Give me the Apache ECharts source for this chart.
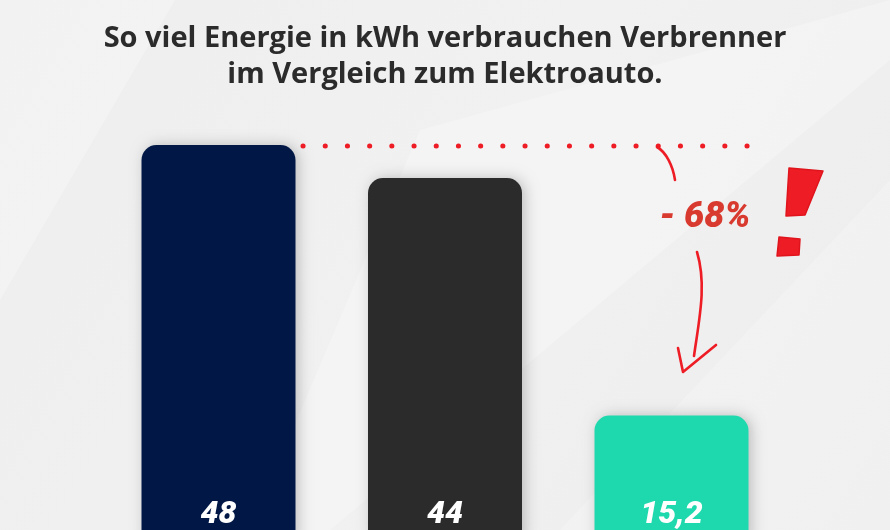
<!DOCTYPE html>
<html>
<head>
<meta charset="utf-8">
<script src="https://cdn.jsdelivr.net/npm/echarts@6/dist/echarts.min.js"></script>
<style>html,body{margin:0;padding:0;}#c{width:890px;height:530px;}</style>
</head>
<body>
<div id="c"></div>
<script>
const titleLines = ["So viel Energie in kWh verbrauchen Verbrenner", "im Vergleich zum Elektroauto."];
const categories = ["Benziner", "Diesel", "Elektroauto"];
const values = [48, 44, 15.2];
const barColors = ["#011846", "#2b2b2b", "#1fd9ae"];
const changeLabel = "- 68%";

const chart = echarts.init(document.getElementById('c'), null, {renderer: 'canvas'});

const bgGraphics = [
  {type: 'rect', z: -10, silent: true, shape: {x: 0, y: 0, width: 890, height: 530},
   style: {fill: new echarts.graphic.LinearGradient(0, 0, 1, 1, [
     {offset: 0, color: '#eeeeee'}, {offset: 0.5, color: '#f1f1f1'}, {offset: 1, color: '#ededed'}])}},
  {type: 'polygon', z: -9, silent: true, shape: {points: [[0, 0], [175, 0], [0, 300]]},
   style: {fill: 'rgba(255,255,255,0.25)'}},
  {type: 'polygon', z: -9, silent: true, shape: {points: [[420, 130], [890, 0], [890, 60], [330, 530], [250, 530]]},
   style: {fill: 'rgba(255,255,255,0.25)'}},
  {type: 'polygon', z: -9, silent: true, shape: {points: [[890, 180], [890, 530], [560, 530]]},
   style: {fill: 'rgba(255,255,255,0.2)'}}
];

const option = {
  animation: false,
  backgroundColor: '#efefef',
  title: {
    text: titleLines.join('\n'),
    left: 'center',
    top: 16,
    textStyle: {fontFamily: 'Open Sans', fontWeight: 'bold', fontSize: 29, lineHeight: 36, color: '#2b2b2b'}
  },
  grid: {left: 105.25, right: 105.25, top: 145, height: 396, containLabel: false, outerBoundsMode: 'none'},
  xAxis: {type: 'category', data: categories, show: false},
  yAxis: {type: 'value', min: 0, max: 48, show: false, splitLine: {show: false}},
  series: [{
    type: 'bar',
    barWidth: 154,
    clip: false,
    data: values.map((v, i) => ({value: v, itemStyle: {color: barColors[i]}})),
    itemStyle: {borderRadius: [15, 15, 0, 0], shadowBlur: 14, shadowOffsetX: 3, shadowOffsetY: 0, shadowColor: 'rgba(0,0,0,0.22)'},
    label: {
      show: true, position: 'insideBottom', distance: 10,
      formatter: p => String(p.value).replace('.', ','),
      fontFamily: 'Roboto', fontWeight: 900, fontStyle: 'italic', fontSize: 32, color: '#ffffff'
    }
  }],
  graphic: bgGraphics
};
chart.setOption(option);

const topY = chart.convertToPixel({gridIndex: 0}, [0, values[0]])[1] + 1;
const red = '#ee1c24';
chart.setOption({graphic: bgGraphics.concat([
  {type: 'line', silent: true, z: 10, shape: {x1: 303, y1: topY, x2: 750, y2: topY},
   style: {stroke: red, lineWidth: 5, lineCap: 'round', lineDash: [0.1, 22.1]}},
  {type: 'bezierCurve', silent: true, z: 10, shape: {x1: 657, y1: topY + 1, cpx1: 666, cpy1: topY + 6, cpx2: 673, cpy2: topY + 20, x2: 675, y2: topY + 34},
   style: {stroke: red, lineWidth: 2.6, lineCap: 'round', fill: null}},
  {type: 'text', silent: true, z: 10, x: 705, y: 218,
   style: {text: changeLabel, fontFamily: 'Roboto', fontWeight: 900, fontStyle: 'italic', fontSize: 36, fill: '#d93a2f', align: 'center', verticalAlign: 'middle'}},
  {type: 'bezierCurve', silent: true, z: 10, shape: {x1: 697, y1: 252, cpx1: 707, cpy1: 285, cpx2: 699, cpy2: 320, x2: 694, y2: 356},
   style: {stroke: red, lineWidth: 2.6, lineCap: 'round', fill: null}},
  {type: 'polyline', silent: true, z: 10, shape: {points: [[678, 348], [683, 372], [716, 345]]},
   style: {stroke: red, lineWidth: 2.6, lineCap: 'round', lineJoin: 'round', fill: null}},
  {type: 'polygon', silent: true, z: 10, shape: {points: [[789, 168], [823, 171], [805, 215], [786, 216]]},
   style: {fill: red, stroke: '#e0141c', lineWidth: 1.5, lineJoin: 'round'}},
  {type: 'polygon', silent: true, z: 10, shape: {points: [[779, 237], [800, 239], [799, 255], [777, 256]]},
   style: {fill: red, stroke: '#e0141c', lineWidth: 1.5, lineJoin: 'round'}}
])});
</script>
</body>
</html>
